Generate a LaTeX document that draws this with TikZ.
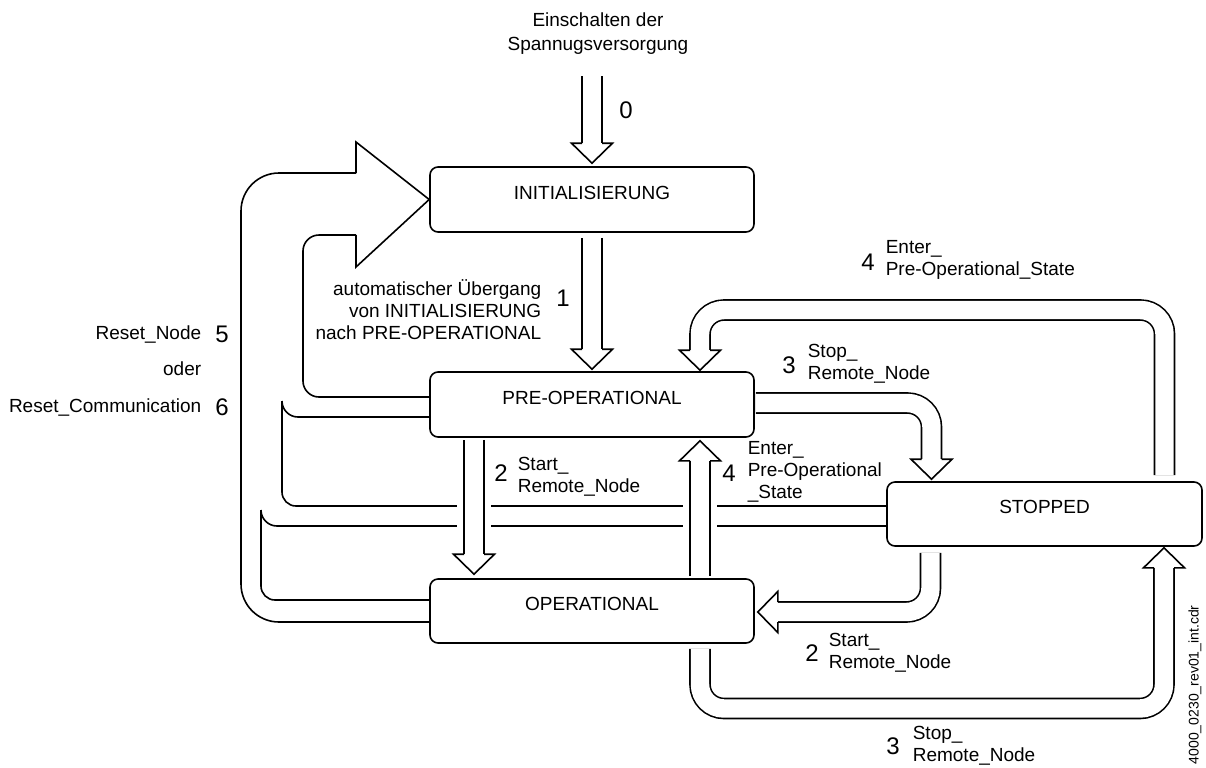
\documentclass[tikz,border=0pt]{standalone}
\usepackage{fontspec}
\setmainfont{Liberation Sans}
\usetikzlibrary{calc}

\begin{document}
\begin{tikzpicture}[x=0.5pt,y=0.5pt,line width=0.8pt,
	font=\fontsize{9.5}{11}\selectfont,
	state/.style={draw, rounded corners=4pt, inner sep=0pt, minimum width=162pt, minimum height=32.5pt, text depth=7pt},
	band/.style={double=white, double distance=9.2pt, rounded corners=12pt},
	gap/.style={white, line width=17pt},
	num/.style={font=\fontsize{12}{14}\selectfont, inner sep=0pt},
	lbl/.style={align=left, anchor=west, inner sep=0pt},
	pics/blockhead/.style={code={\filldraw[fill=white] (-5pt,10pt) -- (-10.25pt,10pt) -- (0,0) -- (10.25pt,10pt) -- (5pt,10pt);}}]
			\useasboundingbox (0,0) rectangle (1206,-767);
			% states
			\node[state] (init) at (592,-199.5) {INITIALISIERUNG};
			\node[state] (preop) at (592,-404.5) {PRE-OPERATIONAL};
			\node[state, minimum height=32pt] (op) at (592,-611) {OPERATIONAL};
			\node[state, minimum width=157.5pt, minimum height=32pt] (stopped) at (1044.5,-514) {STOPPED};
			% 5/6 reset band
			\draw[rounded corners=19pt] (op.west |- 0,-622) -- (241,-622) -- (241,-173) -- (356,-173);
			\draw (356,-173) -- (356,-142) -- (init.west) -- (356,-267) -- (356,-235);
			\draw[rounded corners=8pt] (356,-235) -- (303,-235) -- (303,-397) -- (preop.west |- 0,-397);
			\draw (preop.west |- 0,-417) -- (298,-417) arc[start angle=270, end angle=180, radius=8pt];
			\draw[rounded corners=7pt] (282,-401) -- (282,-506) -- (stopped.west |- 0,-506);
			\draw (261,-510) arc[start angle=180, end angle=270, radius=8pt] -- (stopped.west |- 0,-526);
			\draw[rounded corners=7pt] (261,-510) -- (261,-600) -- (op.west |- 0,-600);
			% 0
			\draw[band] ($(init.north)+(0,90)$) -- ($(init.north)+(0,23)$);
			\pic at ($(init.north)+(0,3)$) {blockhead};
			% 1
			\draw[band] ($(init.south)+(0,-5)$) -- ($(preop.north)+(0,22)$);
			\pic at ($(preop.north)+(0,2)$) {blockhead};
			% 2 preop -> op
			\draw[gap] ($(preop.south)+(-118,-2)$) -- ($(op.north)+(-118,24)$);
			\draw[band] ($(preop.south)+(-118,-2)$) -- ($(op.north)+(-118,24)$);
			\pic at ($(op.north)+(-118,4)$) {blockhead};
			% 4 op -> preop
			\draw[gap] ($(op.north)+(108,2)$) -- ($(preop.south)+(108,-23)$);
			\draw[band] ($(op.north)+(108,2)$) -- ($(preop.south)+(108,-23)$);
			\pic[rotate=180] at ($(preop.south)+(108,-3)$) {blockhead};
			% 3 preop -> stopped
			\draw[band] ($(preop.east)+(1,1.5)$) -| ($(stopped.north)+(-113,22)$);
			\pic at ($(stopped.north)+(-113,2)$) {blockhead};
			% 4 stopped -> preop
			\draw[band] ($(stopped.north)+(120,6)$) |- (700,-310) -- ($(preop.north)+(108,21)$);
			\pic at ($(preop.north)+(108,1)$) {blockhead};
			% 2 stopped -> op
			\draw[band] ($(stopped.south)+(-114,-6)$) |- ($(op.east)+(23,-1)$);
			\pic[rotate=-90] at ($(op.east)+(3,-1)$) {blockhead};
			% 3 op -> stopped
			\draw[band] ($(op.south)+(108,-5)$) |- (1164,-708.5) -- ($(stopped.south)+(119.5,-21)$);
			\pic[rotate=180] at ($(stopped.south)+(119.5,-1)$) {blockhead};
			% labels
			\node[align=center, font=\fontsize{9.5}{12}\selectfont] (power) at (598,-34) {Einschalten der\\Spannugsversorgung};
			\node[num] (nzero) at (626,-110) {0};
			\node[num] (none) at (563,-298) {1};
			\node[align=right, anchor=east, inner sep=0pt] (auto) at (542,-310) {automatischer Übergang\\von INITIALISIERUNG\\nach PRE-OPERATIONAL};
			\node[align=right, anchor=east, inner sep=0pt, font=\fontsize{9.5}{18.25}\selectfont] (reset) at (202,-370.5) {Reset\_Node\\oder\\Reset\_Communication};
			\node[num] (nfive) at (222,-334) {5};
			\node[num] (nsix) at (222,-407) {6};
			\node[num] (nthreetop) at (789,-365) {3};
			\node[lbl] (stoptop) at (807,-364) {Stop\_\\Remote\_Node};
			\node[num] (nfourtop) at (868,-262) {4};
			\node[lbl] (entertop) at (885,-259.5) {Enter\_\\Pre-Operational\_State};
			\node[num] (ntwomid) at (501,-473) {2};
			\node[lbl] (startmid) at (517,-477) {Start\_\\Remote\_Node};
			\node[num] (nfourmid) at (729,-473) {4};
			\node[lbl] (entermid) at (747,-471.5) {Enter\_\\Pre-Operational\\\_State};
			\node[num] (ntwobot) at (812,-653) {2};
			\node[lbl] (startbot) at (828,-653) {Start\_\\Remote\_Node};
			\node[num] (nthreebot) at (893,-746) {3};
			\node[lbl] (stopbot) at (912,-746) {Stop\_\\Remote\_Node};
			\node[rotate=90, anchor=west, inner sep=0pt, font=\fontsize{7}{8}\selectfont] (fname) at (1195,-765) {4000\_0230\_rev01\_int.cdr};
		\end{tikzpicture}
\end{document}
